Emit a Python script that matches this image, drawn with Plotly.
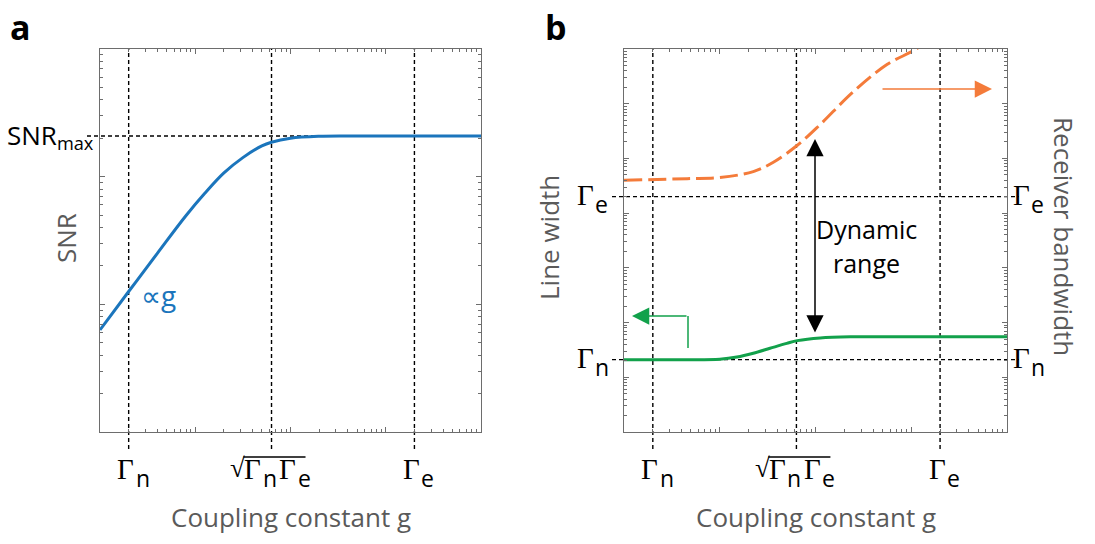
import math
import plotly.graph_objects as go

W, H = 1095, 544

# ---- data ----
# panel a: SNR vs coupling constant g
g_snr = [0.01, 0.02, 0.04, 0.079, 0.126, 0.2, 0.316, 0.5, 0.63, 1.0, 2.0, 4.0, 10, 100]
snr = [6.3, 12.6, 25.1, 49.0, 74.1, 107, 141, 174, 186, 200, 207, 208, 208, 208]

# panel b: line width (left axis) and receiver bandwidth (right axis)
g_lw = [0.01, 0.0457, 0.1, 0.151, 0.224, 0.335, 0.501, 0.646, 1.12, 2.45, 10, 100]
line_width = [20.9, 20.9, 21.4, 23.4, 27.5, 33.9, 41.7, 46.8, 52.5, 55.0, 55.0, 55.0]

g_bw = [0.01, 0.0457, 0.1, 0.224, 0.363, 0.646, 1.12, 2.45, 5.62, 11.5, 20]
bandwidth = [39800, 42700, 44700, 57500, 85100, 173800, 416900, 1622000, 5248000, 10230000, 22390000]

# reference levels
GAMMA_N = 0.02
GAMMA_SQRT = 0.632
GAMMA_E = 20
SNR_MAX = 208
LW_GAMMA_N = 21
LW_GAMMA_E = 20000

X_RANGE = [-2, 2]
YA_RANGE = [0, 3]
YB_RANGE = [0, 7]

# ---- layout geometry (pixels) ----
PA = (100, 481)
PB = (624, 1007)
TOP, BOT = 49, 432


def px(x):
    return x / W


def py(y):
    return 1 - y / H


def gx(g, panel):
    x0, x1 = panel
    return x0 + (math.log10(g) - X_RANGE[0]) / (X_RANGE[1] - X_RANGE[0]) * (x1 - x0)


def gy(v, rng):
    return BOT - (math.log10(v) - rng[0]) / (rng[1] - rng[0]) * (BOT - TOP)


BLUE = '#1b75bc'
GREEN = '#12a14b'
ORANGE = '#f47b3a'
AXC = '#6d6d6d'
TITLE_C = '#5a5a5a'
SANS = 'Open Sans'
SERIF = 'Liberation Serif'

fig = go.Figure()
fig.add_trace(go.Scatter(x=g_snr, y=snr, mode='lines', xaxis='x', yaxis='y',
                         line=dict(color=BLUE, width=3, shape='spline'), showlegend=False))
fig.add_trace(go.Scatter(x=g_lw, y=line_width, mode='lines', xaxis='x2', yaxis='y2',
                         line=dict(color=GREEN, width=3, shape='spline'), showlegend=False))
fig.add_trace(go.Scatter(x=g_bw, y=bandwidth, mode='lines', xaxis='x2', yaxis='y2',
                         line=dict(color=ORANGE, width=3, shape='spline', dash='18px,6px'),
                         showlegend=False))

ax_common = dict(type='log', showgrid=False, zeroline=False, showline=True, linecolor=AXC,
                 linewidth=1.3, mirror='allticks', ticks='inside', ticklen=5, tickcolor=AXC,
                 tickwidth=1, showticklabels=False, dtick=1,
                 minor=dict(ticks='inside', ticklen=3, tickcolor=AXC, dtick='D1', showgrid=False))

fig.update_layout(
    width=W, height=H, margin=dict(l=0, r=0, t=0, b=0),
    paper_bgcolor='white', plot_bgcolor='rgba(0,0,0,0)',
    font=dict(family=SANS, size=22, color='black'),
    xaxis=dict(domain=[px(PA[0]), px(PA[1])], range=X_RANGE, anchor='y', **ax_common),
    yaxis=dict(domain=[py(BOT), py(TOP)], range=YA_RANGE, anchor='x', **ax_common),
    xaxis2=dict(domain=[px(PB[0]), px(PB[1])], range=X_RANGE, anchor='y2', **ax_common),
    yaxis2=dict(domain=[py(BOT), py(TOP)], range=YB_RANGE, anchor='x2', **ax_common),
)

shapes = []
DASH = dict(color='black', width=1.4, dash='4px,3px')
for xr in ['x', 'x2']:
    for g in [GAMMA_N, GAMMA_SQRT, GAMMA_E]:
        shapes.append(dict(type='line', xref=xr, yref='paper', x0=g, x1=g,
                           y0=py(449), y1=py(TOP), line=DASH, layer='below'))
shapes.append(dict(type='line', xref='paper', yref='y', x0=px(87), x1=px(PA[1]),
                   y0=SNR_MAX, y1=SNR_MAX, line=DASH, layer='below'))
for v in [LW_GAMMA_N, LW_GAMMA_E]:
    shapes.append(dict(type='line', xref='paper', yref='y2', x0=px(612), x1=px(1019),
                       y0=v, y1=v, line=DASH, layer='below'))

ann = []


def text(x, y, s, size=22, color='black', family=SANS, xanchor='center', yanchor='middle', angle=0):
    ann.append(dict(x=px(x), y=py(y), xref='paper', yref='paper', text=s, showarrow=False,
                    font=dict(family=family, size=size, color=color), xanchor=xanchor,
                    yanchor=yanchor, textangle=angle))


def gamma(xc, yc, sub):
    # Γ in serif, subscript in sans; (xc, yc) = centre of the Γ glyph
    text(xc, yc, 'Γ', size=29, family=SERIF)
    text(xc + 8, yc + 9, sub, size=23, xanchor='left')


def sqrt_label(L, yc):
    text(L - 34, yc - 1, '√', size=27, family=SERIF)
    gamma(L - 19, yc, 'n')
    gamma(L + 16, yc, 'e')
    shapes.append(dict(type='line', xref='paper', yref='paper', x0=px(L - 28), x1=px(L + 34),
                       y0=py(457), y1=py(457), line=dict(color='black', width=1.3)))


def arrow(hx, hy, tx, ty, color, both=False):
    d = dict(x=px(hx), y=py(hy), xref='paper', yref='paper', axref='pixel', ayref='pixel',
             ax=tx - hx, ay=ty - hy, text='', showarrow=True, arrowhead=2, arrowsize=2.3,
             arrowwidth=1.5, arrowcolor=color)
    if both:
        d.update(arrowside='end+start', startarrowhead=2, startarrowsize=2.3)
    ann.append(d)


XL_Y = 469
for panel in [PA, PB]:
    gamma(gx(GAMMA_N, panel) - 3, XL_Y, 'n')
    sqrt_label(gx(GAMMA_SQRT, panel), XL_Y)
    gamma(gx(GAMMA_E, panel) - 3, XL_Y, 'e')
    text((panel[0] + panel[1]) / 2, 517, 'Coupling constant g', size=26, color=TITLE_C)

# panel b y labels
for v, sub in [(LW_GAMMA_N, 'n'), (LW_GAMMA_E, 'e')]:
    y = gy(v, YB_RANGE) - 2
    gamma(585, y, sub)
    gamma(1021, y, sub)

# SNR_max
text(96, 136, 'SNR<sub>max</sub>', size=26, xanchor='right')

# panel letters
text(8, 2, '<b>a</b>', size=34, xanchor='left', yanchor='top')
text(543, 2, '<b>b</b>', size=34, xanchor='left', yanchor='top')

# axis titles
text(66, 238, 'SNR', size=26, color=TITLE_C, angle=-90)
text(549, 238, 'Line width', size=26, color=TITLE_C, angle=-90)
text(1064, 236, 'Receiver bandwidth', size=26, color=TITLE_C, angle=90)

# in-plot text
text(158, 295, '∝g', size=28, color=BLUE)
text(866, 229, 'Dynamic', size=25)
text(866, 263, 'range', size=25)

# arrows
arrow(992, 89, 881, 89, ORANGE)
arrow(632, 316, 688, 316, GREEN)
shapes.append(dict(type='line', xref='paper', yref='paper', x0=px(688), x1=px(688),
                   y0=py(316), y1=py(348), line=dict(color=GREEN, width=1.5)))
arrow(815, 139, 815, 334, 'black', both=True)

fig.update_layout(shapes=shapes, annotations=ann)
fig.write_html('out.html')
